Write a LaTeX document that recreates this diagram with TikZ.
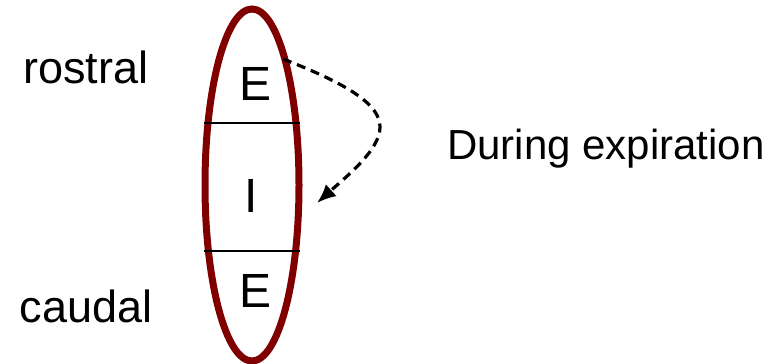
\documentclass[tikz,border=0pt]{standalone}
\usepackage{fontspec}
\setmainfont{Liberation Sans}
\usetikzlibrary{arrows.meta}
\definecolor{ovalred}{HTML}{800000}
\begin{document}
\begin{tikzpicture}[x=1pt,y=-1pt,
  lbl/.style={inner sep=0pt,font=\fontsize{45}{50}\selectfont},
  seg/.style={inner sep=0pt,font=\fontsize{48}{54}\selectfont},
  divider/.style={line width=2.8pt,black},
  flow/.style={line width=3.2pt,dash pattern=on 9pt off 6pt,-{Latex[length=19pt,width=16pt]}}]
\useasboundingbox (0,0) rectangle (771,364);
\draw[ovalred,line width=7pt] (252,185) ellipse [x radius=47, y radius=176];
\draw[divider] (204,123) -- (300,123);
\draw[divider] (204,251) -- (300,251);
\node[seg,anchor=base] (e1) at (256,100) {E};
\node[seg,anchor=base] (i) at (251,212) {I};
\node[seg,anchor=base] (e2) at (256,307) {E};
\node[lbl,anchor=base] (ros) at (86,83) {rostral};
\node[lbl,anchor=base] (cau) at (86,322) {caudal};
\node[lbl,font=\fontsize{42}{48}\selectfont,anchor=base west] (dur) at (447,159) {During expiration};
\coordinate (s) at (283,59);
\coordinate (m) at (380,127);
\coordinate (t) at (317,203);
\draw[flow] (s) .. controls (350,85) and (380,105) .. (m) .. controls (380,150) and (347,176) .. (t);
\end{tikzpicture}
\end{document}
